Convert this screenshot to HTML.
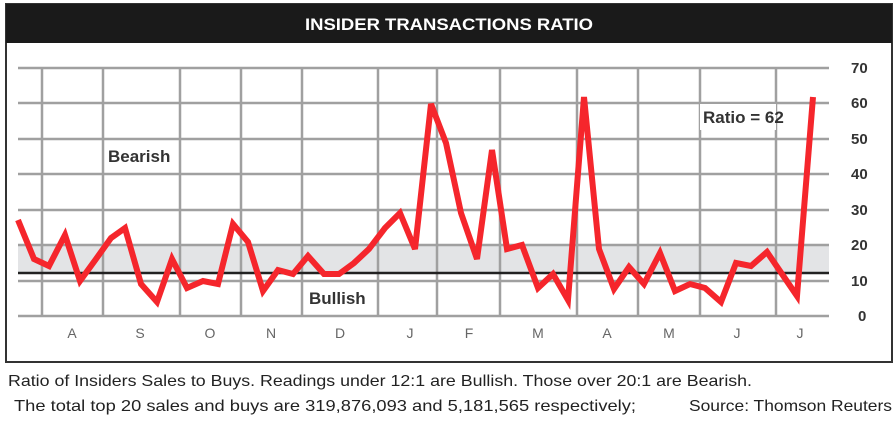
<!DOCTYPE html>
<html><head><style>
body{margin:0;background:#fff;width:896px;height:424px;overflow:hidden;font-family:"Liberation Sans",sans-serif}
</style></head><body>
<svg width="896" height="424" xmlns="http://www.w3.org/2000/svg" font-family="Liberation Sans, sans-serif">
<rect x="6" y="4" width="886" height="358" fill="#fff" stroke="#333" stroke-width="2"/>
<rect x="6" y="4" width="886" height="39" fill="#1a1a1a"/>
<text x="305" y="30" fill="#fff" font-size="17" font-weight="bold" textLength="288" lengthAdjust="spacingAndGlyphs">INSIDER TRANSACTIONS RATIO</text>
<rect x="18" y="245" width="811" height="28" fill="#e3e4e6"/>
<g stroke="#a0a0a0" stroke-width="2.5">
<line x1="18" x2="829" y1="68" y2="68"/><line x1="18" x2="829" y1="103" y2="103"/>
<line x1="18" x2="829" y1="139" y2="139"/><line x1="18" x2="829" y1="174" y2="174"/>
<line x1="18" x2="829" y1="210" y2="210"/><line x1="18" x2="829" y1="245" y2="245"/>
<line x1="18" x2="829" y1="281" y2="281"/><line x1="18" x2="829" y1="316" y2="316"/>
<line x1="42" x2="42" y1="68" y2="316"/><line x1="103" x2="103" y1="68" y2="316"/>
<line x1="180" x2="180" y1="68" y2="316"/><line x1="241" x2="241" y1="68" y2="316"/>
<line x1="302" x2="302" y1="68" y2="316"/><line x1="378" x2="378" y1="68" y2="316"/>
<line x1="437" x2="437" y1="68" y2="316"/><line x1="500" x2="500" y1="68" y2="316"/>
<line x1="577" x2="577" y1="68" y2="316"/><line x1="638" x2="638" y1="68" y2="316"/>
<line x1="700" x2="700" y1="68" y2="316"/><line x1="776" x2="776" y1="68" y2="316"/>
</g>
<line x1="18" x2="829" y1="273" y2="273" stroke="#222" stroke-width="2.5"/>
<rect x="107" y="142" width="70" height="26" fill="#fff"/>
<text x="108" y="162" font-size="17" font-weight="bold" fill="#333">Bearish</text>
<rect x="306" y="285" width="70" height="24" fill="#fff"/>
<text x="309" y="304" font-size="17" font-weight="bold" fill="#333">Bullish</text>
<rect x="700" y="104" width="76" height="26" fill="#fff"/>
<text x="703" y="123" font-size="17" font-weight="bold" fill="#333">Ratio = 62</text>
<polyline fill="none" stroke="#f5262c" stroke-width="6" stroke-linejoin="miter" points="18,220 34,259 49,266 65,235 80,281 96,259 111,238 125,228 141,284 157,302 172,259 187,288 203,281 218,284 233,224 248,242 263,291 278,270 293,274 308,256 324,274 339,274 354,263 369,249 385,228 400,213 415,249 431,104 446,143 461,213 477,259 492,150 507,249 522,245 538,288 553,274 568,300 584,97 599,249 614,289 629,267 644,284 660,253 675,291 690,284 705,288 721,302 736,263 751,266 767,252 782,274 797,296 813,97"/>
<g font-size="15" font-weight="bold" fill="#333">
<text x="851" y="73">70</text><text x="851" y="108">60</text><text x="851" y="144">50</text>
<text x="851" y="179">40</text><text x="851" y="215">30</text><text x="851" y="250">20</text>
<text x="851" y="286">10</text><text x="858" y="321">0</text>
</g>
<g font-size="14" fill="#666" text-anchor="middle">
<text x="72" y="338">A</text><text x="140" y="338">S</text><text x="210" y="338">O</text>
<text x="271" y="338">N</text><text x="340" y="338">D</text><text x="410" y="338">J</text>
<text x="469" y="338">F</text><text x="538" y="338">M</text><text x="607" y="338">A</text>
<text x="669" y="338">M</text><text x="737" y="338">J</text><text x="800" y="338">J</text>
</g>
<text x="8" y="386" font-size="16" fill="#222" textLength="744" lengthAdjust="spacingAndGlyphs">Ratio of Insiders Sales to Buys. Readings under 12:1 are Bullish. Those over 20:1 are Bearish.</text>
<text x="14" y="411" font-size="16" fill="#222" textLength="622" lengthAdjust="spacingAndGlyphs">The total top 20 sales and buys are 319,876,093 and 5,181,565 respectively;</text>
<text x="689" y="411" font-size="16" fill="#222" textLength="203" lengthAdjust="spacingAndGlyphs">Source: Thomson Reuters</text>
</svg>
</body></html>
